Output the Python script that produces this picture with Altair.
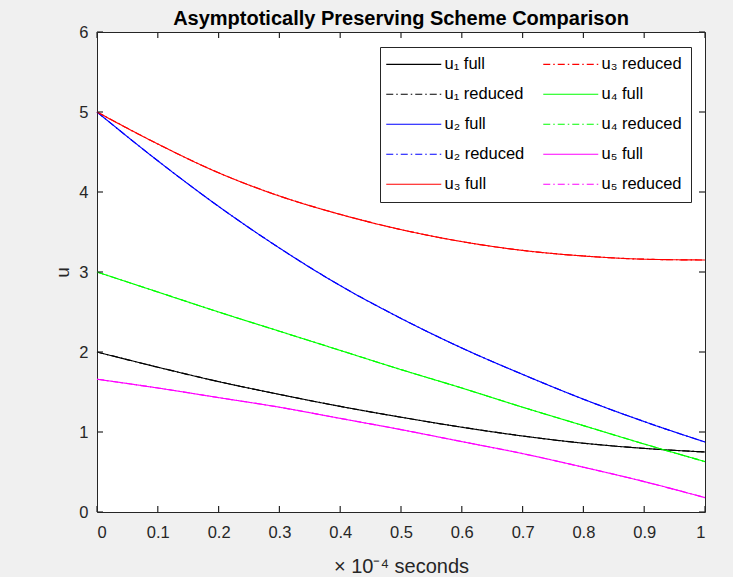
import altair as alt
import pandas as pd

# time (x 10^-4 seconds)
t_vals = [0.0, 0.1, 0.2, 0.3, 0.4, 0.5, 0.6, 0.7, 0.8, 0.9, 1.0]

u1_full = [2.00, 1.81, 1.63, 1.47, 1.32, 1.185, 1.06, 0.95, 0.86, 0.795, 0.75]
u2_full = [5.00, 4.39, 3.82, 3.30, 2.83, 2.42, 2.05, 1.72, 1.41, 1.13, 0.875]
u3_full = [5.00, 4.60, 4.24, 3.95, 3.72, 3.53, 3.38, 3.27, 3.20, 3.16, 3.15]
u4_full = [3.00, 2.75, 2.50, 2.26, 2.02, 1.78, 1.55, 1.31, 1.08, 0.85, 0.63]
u5_full = [1.66, 1.55, 1.43, 1.31, 1.17, 1.03, 0.88, 0.73, 0.56, 0.38, 0.18]

# reduced solutions coincide with the full ones in the picture
u1_red = [2.00, 1.81, 1.63, 1.47, 1.32, 1.185, 1.06, 0.95, 0.86, 0.795, 0.75]
u2_red = [5.00, 4.39, 3.82, 3.30, 2.83, 2.42, 2.05, 1.72, 1.41, 1.13, 0.875]
u3_red = [5.00, 4.60, 4.24, 3.95, 3.72, 3.53, 3.38, 3.27, 3.20, 3.16, 3.15]
u4_red = [3.00, 2.75, 2.50, 2.26, 2.02, 1.78, 1.55, 1.31, 1.08, 0.85, 0.63]
u5_red = [1.66, 1.55, 1.43, 1.31, 1.17, 1.03, 0.88, 0.73, 0.56, 0.38, 0.18]

series = {
    "u₁ full": u1_full, "u₁ reduced": u1_red,
    "u₂ full": u2_full, "u₂ reduced": u2_red,
    "u₃ full": u3_full, "u₃ reduced": u3_red,
    "u₄ full": u4_full, "u₄ reduced": u4_red,
    "u₅ full": u5_full, "u₅ reduced": u5_red,
}
series_colors = {
    "u₁": "#000000", "u₂": "#0000ff", "u₃": "#ff0000", "u₄": "#00ff00", "u₅": "#ff00ff",
}

# legend order (filled column by column)
legend_order = ["u₁ full", "u₁ reduced", "u₂ full", "u₂ reduced", "u₃ full",
                "u₃ reduced", "u₄ full", "u₄ reduced", "u₅ full", "u₅ reduced"]

x_ticks = [0, 0.1, 0.2, 0.3, 0.4, 0.5, 0.6, 0.7, 0.8, 0.9, 1]
y_ticks = [0, 1, 2, 3, 4, 5, 6]

rows = []
for name, vals in series.items():
    kind = "reduced" if "reduced" in name else "full"
    for t, v in zip(t_vals, vals):
        rows.append({"series": name, "kind": kind, "t": t, "u": v})
df = pd.DataFrame(rows)
xt_df = pd.DataFrame({"tick_t": x_ticks})
yt_df = pd.DataFrame({"tick_u": y_ticks})

color_range = [series_colors[n.split(" ")[0]] for n in legend_order]
dash_range = [[7, 3, 1.5, 3] if "reduced" in n else [1, 0] for n in legend_order]

FONT = "Liberation Sans"
AX = "#262626"
W, H, TICK = 608, 480, 6

legend = alt.Legend(
    title=None, orient="none", legendX=283, legendY=15, columns=2,
    symbolType="M-2,0H8", symbolSize=121, symbolStrokeWidth=1.1,
    labelFont=FONT, labelFontSize=16.5, labelColor="#000000", labelOffset=39,
    rowPadding=13, columnPadding=16, padding=9,
    strokeColor=AX, fillColor="white",
)

color_enc = alt.Color("series:N", scale=alt.Scale(domain=legend_order, range=color_range), legend=legend)
dash_enc = alt.StrokeDash("series:N", scale=alt.Scale(domain=legend_order, range=dash_range), legend=legend)

xscale = alt.Scale(domain=[0, 1], nice=False, zero=False)
yscale = alt.Scale(domain=[0, 6], nice=False)

x_axis = alt.Axis(orient="bottom", values=x_ticks, format=".1~f", ticks=False, tickSize=0, domain=False, grid=False,
                  labelFont=FONT, labelFontSize=16.5, labelColor=AX, labelPadding=12,
                  title="× 10⁻⁴ seconds", titleFont=FONT, titleFontSize=20, titleFontWeight="normal",
                  titleColor=AX, titleBaseline="middle", titleY=54)
y_axis = alt.Axis(orient="left", values=y_ticks, format="d", ticks=False, tickSize=0, domain=False, grid=False,
                  labelFont=FONT, labelFontSize=16.5, labelColor=AX, labelPadding=9,
                  title="u", titleFont=FONT, titleFontSize=19, titleFontWeight="normal",
                  titleColor=AX, titleX=-35, titleY=240, titleBaseline="middle", titleAlign="center")

base = alt.Chart(df)

reduced = base.transform_filter(alt.datum.kind == "reduced").mark_line(strokeWidth=1.15, interpolate="monotone").encode(
    x=alt.X("t:Q", scale=xscale, axis=x_axis),
    y=alt.Y("u:Q", scale=yscale, axis=y_axis),
    color=color_enc, strokeDash=dash_enc,
)
full = base.transform_filter(alt.datum.kind == "full").mark_line(strokeWidth=1.15, interpolate="monotone").encode(
    x=alt.X("t:Q", scale=xscale, axis=x_axis),
    y=alt.Y("u:Q", scale=yscale, axis=y_axis),
    color=color_enc, strokeDash=dash_enc,
)

# inward tick marks (MATLAB box style) at the tick values, on all four sides
xt = alt.Chart(xt_df)
yt = alt.Chart(yt_df)
ticks_bottom = xt.mark_rule(color=AX, strokeWidth=1.2).encode(
    x=alt.X("tick_t:Q", scale=xscale, axis=x_axis), y=alt.value(H), y2=alt.value(H - TICK))
ticks_top = xt.mark_rule(color=AX, strokeWidth=1.2).encode(
    x=alt.X("tick_t:Q", scale=xscale, axis=x_axis), y=alt.value(0), y2=alt.value(TICK))
ticks_left = yt.mark_rule(color=AX, strokeWidth=1.2).encode(
    y=alt.Y("tick_u:Q", scale=yscale, axis=y_axis), x=alt.value(0), x2=alt.value(TICK))
ticks_right = yt.mark_rule(color=AX, strokeWidth=1.2).encode(
    y=alt.Y("tick_u:Q", scale=yscale, axis=y_axis), x=alt.value(W), x2=alt.value(W - TICK))

chart = alt.layer(reduced, full, ticks_bottom, ticks_top, ticks_left, ticks_right).properties(
    width=W, height=H,
    padding={"left": 97, "top": 32, "right": 28, "bottom": 65},
    autosize="none",
    background="#f0f0f0",
    title=alt.TitleParams("Asymptotically Preserving Scheme Comparison", font=FONT, fontSize=20,
                          fontWeight="bold", color="#000000", offset=7, dy=12, anchor="middle"),
).configure_view(fill="white", stroke=AX, strokeWidth=1)

chart.save("out.html", embed_options={"renderer": "svg", "actions": False})
